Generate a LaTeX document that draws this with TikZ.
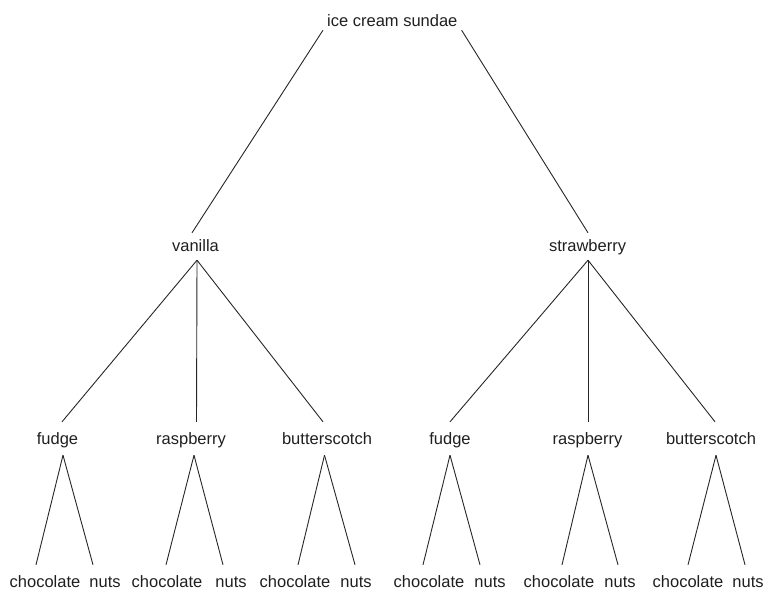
\documentclass[tikz,border=0pt]{standalone}
\usepackage{fontspec}
\setmainfont{Liberation Sans}
\begin{document}
\begin{tikzpicture}[x=1pt,y=-1pt,
  lbl/.style={font=\fontsize{16.5}{19}\selectfont, text=black!88, inner xsep=0pt, inner ysep=0pt, anchor=base},
  rootlbl/.style={lbl, inner xsep=4pt, text height=12pt, text depth=3.5pt},
  midlbl/.style={lbl, text height=18.5pt, text depth=8.5pt},
  lowlbl/.style={lbl, text height=22pt, text depth=11pt},
  leaflbl/.style={lbl, text height=22pt, text depth=4pt},
  edge/.style={draw=black!85, line width=0.9pt}]
\useasboundingbox (0,0) rectangle (767,590);
% nodes
\node[rootlbl] (root) at (392.3,26.5) {ice cream sundae};
\node[midlbl] (van) at (195.5,251.5) {vanilla};
\node[midlbl] (str) at (587.5,251.5) {strawberry};
\node[lowlbl] (f1) at (57.5,444) {fudge};
\node[lowlbl] (r1) at (191,444) {raspberry};
\node[lowlbl] (b1) at (327,444) {butterscotch};
\node[lowlbl] (f2) at (450,444) {fudge};
\node[lowlbl] (r2) at (587.5,444) {raspberry};
\node[lowlbl] (b2) at (711,444) {butterscotch};
\node[leaflbl] (c1) at (45,587) {chocolate};
\node[leaflbl] (n1) at (105,587) {nuts};
\node[leaflbl] (c2) at (167,587) {chocolate};
\node[leaflbl] (n2) at (231,587) {nuts};
\node[leaflbl] (c3) at (295,587) {chocolate};
\node[leaflbl] (n3) at (356,587) {nuts};
\node[leaflbl] (c4) at (429,587) {chocolate};
\node[leaflbl] (n4) at (490,587) {nuts};
\node[leaflbl] (c5) at (559,587) {chocolate};
\node[leaflbl] (n5) at (620,587) {nuts};
\node[leaflbl] (c6) at (688,587) {chocolate};
\node[leaflbl] (n6) at (748,587) {nuts};
% level 1
\draw[edge] (root.south west) -- ([xshift=-3.5pt]van.north);
\draw[edge] (root.south east) -- ([xshift=0.5pt]str.north);
% level 2
\draw[edge] ([xshift=1.5pt]van.south) -- ([xshift=4.5pt]f1.north);
\draw[edge] ([xshift=1.5pt]van.south) -- ([xshift=5.5pt]r1.north);
\draw[edge] ([xshift=1.5pt]van.south) -- ([xshift=-4pt]b1.north);
\draw[edge] ([xshift=0.5pt]str.south) -- (f2.north);
\draw[edge] ([xshift=0.5pt]str.south) -- ([xshift=0.5pt]r2.north);
\draw[edge] ([xshift=0.5pt]str.south) -- ([xshift=4pt]b2.north);
% level 3
\draw[edge] ([xshift=5.5pt]f1.south) -- ([xshift=-9pt]c1.north);
\draw[edge] ([xshift=5.5pt]f1.south) -- ([xshift=-12pt]n1.north);
\draw[edge] ([xshift=3pt]r1.south) -- ([xshift=-1pt]c2.north);
\draw[edge] ([xshift=3pt]r1.south) -- ([xshift=-8pt]n2.north);
\draw[edge] ([xshift=-2.5pt]b1.south) -- ([xshift=3pt]c3.north);
\draw[edge] ([xshift=-2.5pt]b1.south) -- ([xshift=-1pt]n3.north);
\draw[edge] (f2.south) -- ([xshift=-6pt]c4.north);
\draw[edge] (f2.south) -- ([xshift=-10pt]n4.north);
\draw[edge] ([xshift=0.5pt]r2.south) -- ([xshift=3pt]c5.north);
\draw[edge] ([xshift=0.5pt]r2.south) -- ([xshift=-2pt]n5.north);
\draw[edge] ([xshift=5pt]b2.south) -- (c6.north);
\draw[edge] ([xshift=5pt]b2.south) -- ([xshift=-3pt]n6.north);
\end{tikzpicture}
\end{document}
